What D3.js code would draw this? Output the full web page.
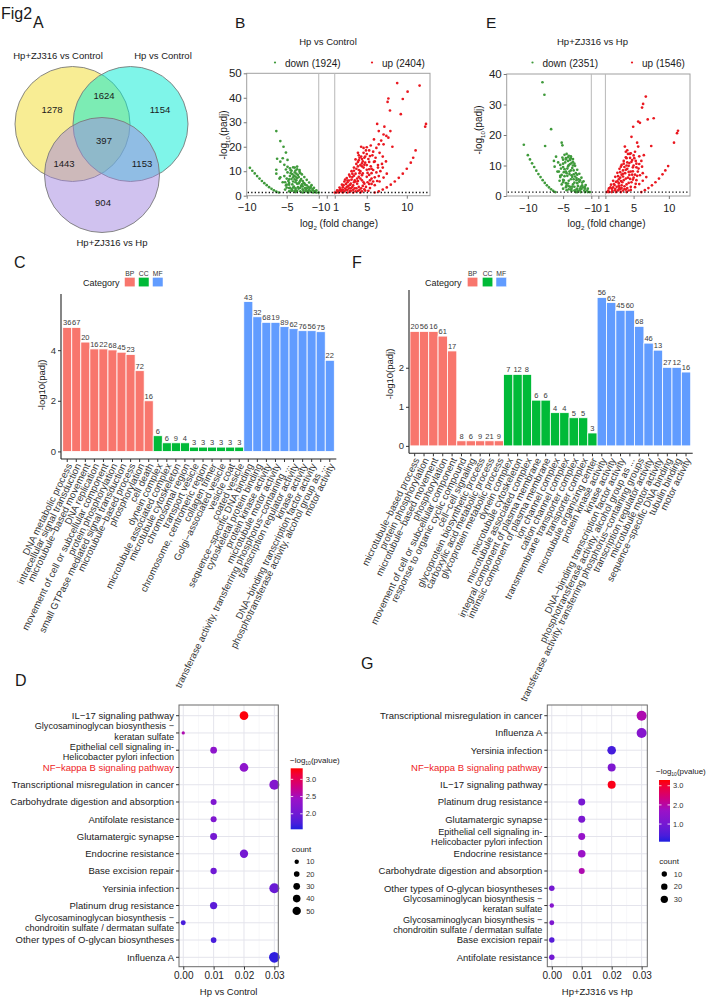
<!DOCTYPE html>
<html><head><meta charset="utf-8">
<script src="https://cdn.jsdelivr.net/npm/d3@7"></script>
<style>body{margin:0;background:#fff}svg{display:block}text{font-family:"Liberation Sans",Arial,Helvetica,sans-serif}</style>
</head><body><svg id="chart" width="709" height="999"></svg>
<script>
// ---------------- DATA ----------------
const vennSetNames = ["Hp+ZJ316 vs Control", "Hp vs Control", "Hp+ZJ316 vs Hp"];
// regions: A only, B only, C only, A&B, A&C, B&C, A&B&C
const vennCounts = [1278, 1154, 904, 1624, 1443, 1153, 397];

const volcanoTitles = ["Hp vs Control", "Hp+ZJ316 vs Hp"];
const downCounts = [1924, 2351];
const upCounts = [2404, 1546];
const volcanoXTicks = [-10, -5, -1, 0, 1, 5, 10];
const padjThreshold = 0.05;
const fcLines = [-1, 1];

const bDown = [
 [-9.6,11.4],[-9.3,10.2],[-9.0,9.1],[-8.7,8],[-8.4,7],[-8.1,6],[-7.8,5.1],[-7.5,4.3],[-7.2,3.5],[-6.9,2.8],[-6.6,2.2],[-6.3,1.7],[-6.0,1.3],
 [-6.3,9],[-5.9,7],[-5.5,5.5],[-5.1,4.2],[-4.7,3.1],[-4.3,2.2],[-3.9,1.5],
 [-1.0,1.3],[-1.3,2.2],[-1.6,3.2],[-1.9,4.3],[-2.2,5.4],[-2.5,6.5],[-2.8,7.6],[-3.1,8.7],[-3.4,9.8],[-3.7,10.8],[-4.0,11.5],
 [-1.3,1.3],[-1.7,2.2],[-2.1,3.2],[-2.5,4.2],[-2.9,5.2],[-3.3,6.2],[-3.7,7.2],[-4.1,8.2],[-4.5,9.2],
 [-1.7,1.3],[-2.2,2.2],[-2.7,3.1],[-3.2,4.0],[-3.7,4.9],[-4.2,5.8],[-4.7,6.7],
 [-2.3,1.3],[-2.9,2.1],[-3.5,2.9],[-4.1,3.7],[-4.7,4.5],
 [-3.0,1.3],[-3.7,2.0],[-4.4,2.7],[-5.0,3.3],
 [-2.0,1.8],[-2.6,1.8],[-3.3,1.8],[-4.0,1.8],[-2.5,3.0],[-3.0,3.8],[-3.5,5.0],[-3.8,6.3],[-4.2,7.5],[-3.2,6.8],[-2.8,5.0],[-4.4,10.2],
 [-4.0,9.5],[-3.6,8.5],[-4.6,8.0],[-4.9,9.5],[-4.8,6.0],[-4.3,4.6],[-3.6,3.5],[-4.6,3.2],[-5.0,4.5],[-2.2,2.6],[-3.9,2.3],[-4.4,2.0],
 [-1.5,1.8],[-1.8,2.7],[-2.3,3.6],[-2.6,2.5],[-3.0,2.6],[-3.3,3.2],[-3.9,3.0],[-4.2,3.3],[-2.7,4.5],[-3.1,4.6],[-3.4,5.6],[-3.0,6.0],
 [-3.9,5.5],[-4.0,6.7],[-4.4,6.8],[-3.5,7.6],[-3.9,7.8],[-4.3,8.8],[-3.8,9.0],[-3.3,9.2],[-3.9,10.3],[-4.5,10.4],[-4.7,5.2],[-5.2,5.5],
 [-5.0,7.0],[-5.3,8.0],[-2.4,1.8],[-4.7,1.8],[-5.2,2.5],[-2.0,3.6],
 [-6.3,26.4],[-5.8,22.3],[-5.4,20],[-5.1,17.6],[-5.5,15.3],[-6.2,15.1],[-4.9,14.6],[-5.8,13.9],[-5.3,12.6],[-6.3,10.6],[-5.8,7.5],
 [-4.6,11.2],[-4.2,11.6],[-3.7,11.9],[-4.9,11.8],[-5.1,10.7],[-3.4,10.5]
];
const bUp = [
 [1.0,1.3],[1.3,2.2],[1.6,3.3],[1.9,4.5],[2.2,5.8],[2.5,7.2],[2.8,8.6],[3.1,10],[3.4,11.5],[3.7,13],[4.0,14.5],[4.3,16],[4.6,17.5],[4.9,18.5],
 [1.2,1.3],[1.6,2.3],[2.0,3.5],[2.4,4.8],[2.8,6.2],[3.2,7.6],[3.6,9],[4.0,10.5],[4.4,12],[4.8,13.5],[5.2,15],
 [1.5,1.3],[2.0,2.4],[2.5,3.6],[3.0,4.9],[3.5,6.3],[4.0,7.7],[4.5,9.1],[5.0,10.6],[5.5,12],
 [2.0,1.3],[2.6,2.4],[3.2,3.6],[3.8,4.9],[4.4,6.3],[5.0,7.7],[5.6,9.2],
 [2.6,1.3],[3.3,2.4],[4.0,3.6],[4.7,4.9],[5.4,6.3],[6.0,7.5],
 [3.3,1.3],[4.1,2.4],[4.9,3.6],[5.6,4.8],
 [4.2,1.3],[4.8,2.1],[5.4,3.1],[6.0,4.3],[6.6,5.8],[7.1,7.4],[7.5,9],
 [6.0,1.3],[6.5,1.8],[7.0,2.5],[7.5,3.4],[8.0,4.5],[8.5,5.8],[9.0,7.3],[9.5,9.0],[10.0,11],[10.5,13.5],[10.8,15.5],[11.1,18.5],
 [1.8,1.8],[2.3,2.9],[2.7,4.0],[3.0,3.0],[3.4,5.5],[3.8,7.0],[3.2,9.0],[3.7,11.0],[4.2,12.5],[4.5,14],[4.8,16],[4.2,10],[4.6,11.5],
 [5.0,12.5],[5.3,13.8],[2.2,1.8],[2.9,1.8],[3.6,1.8],[4.4,1.8],[3.5,3.0],[4.3,3.0],[4.6,5.5],[5.1,5.5],[5.3,8.5],[5.8,10.5],[5.0,17],
 [4.4,15],[4.0,16.5],[3.9,12],[3.4,8.2],[2.6,5.5],[2.1,4.3],
 [1.4,1.8],[1.7,2.6],[2.4,2.4],[2.8,3.0],[3.0,2.0],[3.9,2.0],[4.7,2.6],[5.2,2.0],[2.9,4.4],[3.3,4.2],[3.6,5.8],[3.1,6.6],[3.9,6.0],
 [4.2,7.0],[4.4,8.4],[4.1,9.2],[3.4,10.2],[2.9,7.8],[3.9,13.8],[4.4,13.2],[4.7,12.6],[5.3,10.8],[5.1,9.3],[5.6,7.0],[6.3,6.0],[5.8,5.8],
 [6.5,8.0],[5.6,11.0],[4.7,15.5],[5.4,16.2],[3.6,14.8],[4.1,15.5],[6.0,14.0],[6.4,11.5],[2.3,6.6],[2.6,6.2],[1.9,2.4],[3.7,3.0],[4.5,4.0],[5.3,4.8],
 [8.8,46],[11.6,45],[10.1,42.5],[7.7,39.7],[7.6,38.3],[9.5,39.5],[7.9,34.8],[9.25,33.3],[6.3,29.3],[12.4,29.3],[12.3,28.2],[7.2,28.2],
 [6.5,26.4],[7.95,26.4],[7.45,24.4],[7.7,23.7],[7.1,25],[6.8,22.5],[8.2,20],[7.1,21],[5.9,23],[6.5,21],[5.5,20.5],[6.2,19.5],[5.8,18],
 [6.6,17.5],[5.3,18.5],[7.0,16],[6.1,15.5],[5.7,16.5],[6.9,13],[6.4,12.5],[7.4,14],[5.9,13.8],[6.7,10],[6.2,9.5],[7.0,11.5],[4.6,19.5],
 [5.0,19.8],[3.9,17.5],[4.3,20]
];
const eDown = [
 [-10,13.4],[-9.7,12],[-9.4,10.7],[-9.1,9.5],[-8.8,8.3],[-8.5,7.2],[-8.2,6.2],[-7.9,5.2],[-7.6,4.3],[-7.3,3.5],[-7.0,2.8],[-6.7,2.2],[-6.4,1.7],[-6.1,1.3],
 [-6.2,9.6],[-5.8,8],[-5.4,6.6],[-5.0,5.3],[-4.6,4.2],[-4.2,3.2],[-3.8,2.4],[-3.4,1.8],[-3.0,1.3],
 [-1.2,1.3],[-1.5,2.4],[-1.8,3.6],[-2.1,4.8],[-2.4,6.0],[-2.7,7.3],[-3.0,8.6],[-3.3,9.9],[-3.6,11.2],[-3.9,12.4],
 [-1.5,1.3],[-1.9,2.4],[-2.3,3.5],[-2.7,4.7],[-3.1,5.9],[-3.5,7.1],[-3.9,8.4],[-4.3,9.7],[-4.7,11],
 [-1.9,1.3],[-2.4,2.3],[-2.9,3.3],[-3.4,4.4],[-3.9,5.5],[-4.4,6.6],[-4.9,7.8],[-5.3,9],
 [-2.5,1.3],[-3.1,2.2],[-3.7,3.1],[-4.3,4.1],[-4.9,5.1],[-5.4,6.2],
 [-3.2,1.3],[-3.9,2.1],[-4.6,2.9],[-5.2,3.8],
 [-2.0,1.8],[-2.6,1.8],[-3.3,1.8],[-2.5,3.0],[-3.0,4.2],[-3.5,5.5],[-3.8,6.8],[-4.1,8.0],[-4.4,9.0],[-3.2,7.5],[-2.8,5.5],[-4.0,10.5],
 [-4.3,11.5],[-3.6,10.0],[-4.6,8.0],[-5.0,9.5],[-4.8,6.5],[-4.2,5.0],[-3.6,3.8],[-4.5,3.5],[-5.0,4.5],[-5.5,5.0],[-2.2,2.8],[-3.8,1.6],[-4.5,1.9],
 [-1.6,1.8],[-1.9,3.0],[-2.3,4.4],[-2.6,2.4],[-3.0,2.4],[-3.4,3.0],[-4.0,3.0],[-4.2,2.2],[-2.6,5.2],[-3.1,5.2],[-3.3,6.4],[-3.0,7.0],
 [-3.7,6.2],[-4.1,7.2],[-4.5,7.5],[-3.5,8.4],[-3.7,9.2],[-4.2,10.1],[-3.8,10.8],[-3.4,10.6],[-4.0,11.8],[-4.6,12.0],[-5.0,10.6],[-4.8,8.8],
 [-5.2,6.9],[-5.6,8.0],[-5.1,12.6],[-4.3,12.7],[-2.9,1.8],[-5.0,2.4],
 [-7.93,37.3],[-7.65,33.2],[-6.7,21.9],[-7.55,16.4],[-10.57,16.8],[-5.2,17.5],[-5.1,16.6],[-6.0,12.9],[-6.3,11.5],[-5.7,11],[-4.8,13.5],
 [-4.5,13.8],[-4.2,13.2],[-3.9,13],[-4.6,12.4],[-4.0,12.2],[-3.6,12.1],[-5.0,11.9],[-5.4,10.2]
];
const eUp = [
 [1.2,1.3],[1.5,2.5],[1.8,3.7],[2.1,5.0],[2.4,6.3],[2.7,7.6],[3.0,8.9],[3.3,10.2],[3.6,11.5],[3.9,12.7],[4.2,13.8],
 [1.5,1.3],[1.9,2.4],[2.3,3.6],[2.7,4.8],[3.1,6.0],[3.5,7.3],[3.9,8.6],[4.3,9.9],[4.7,11.2],[5.1,12.4],
 [1.9,1.3],[2.4,2.3],[2.9,3.4],[3.4,4.5],[3.9,5.7],[4.4,6.9],[4.9,8.1],[5.4,9.4],
 [2.5,1.3],[3.1,2.2],[3.7,3.2],[4.3,4.3],[4.9,5.4],[5.5,6.6],
 [3.2,1.3],[3.9,2.1],[4.6,3.0],[5.3,4.0],
 [4.0,1.3],[4.6,2.0],[5.2,2.9],[5.8,3.9],[6.3,5.0],[6.8,6.2],
 [6.1,1.3],[6.6,1.9],[7.1,2.6],[7.6,3.5],[8.1,4.5],[8.6,5.7],[9.1,7.1],[9.5,8.4],[9.9,9.8],
 [2.0,1.8],[2.8,1.8],[3.5,1.8],[4.3,1.8],[2.6,3.0],[3.3,3.5],[2.9,5.5],[3.6,5.2],[3.3,7.0],[3.8,7.5],[4.1,11],[4.5,12.5],[4.0,10],
 [4.6,8],[5.0,10],[4.2,6],[4.7,4.5],[5.2,7],[5.6,8],[5.8,10.5],[3.7,9.5],[4.4,10.8],[5.3,11.5],[3.0,2.8],[4.0,3.8],
 [1.4,1.8],[1.7,2.8],[2.1,2.8],[2.4,1.8],[2.9,2.2],[3.3,2.6],[3.7,2.3],[4.1,2.6],[2.2,3.9],[2.5,4.6],[2.9,4.2],[3.2,4.9],[3.5,6.4],
 [2.8,6.5],[3.1,7.8],[3.5,8.4],[3.2,9.6],[3.6,10.6],[4.1,8.9],[4.3,7.9],[4.8,7.0],[4.9,9.4],[4.5,5.6],[5.0,6.0],[5.4,5.2],[5.9,6.8],
 [5.7,9.0],[4.8,11.8],[5.4,10.6],[4.0,12.4],[3.9,14.5],[4.6,14.0],[5.0,13.3],[6.3,7.5],[6.2,9.6],
 [6.73,32.6],[6.35,30.2],[6.2,29],[5.65,24.4],[5.9,24],[7.0,25.1],[7.85,25.5],[4.94,22.7],[4.7,19.4],[5.65,16.2],[7.5,16.4],[3.76,16.2],
 [4.47,13.8],[6.45,13.4],[10.73,17.5],[11.16,20.6],[11.3,21.4],[5.2,14.5],[5.8,13],[4.1,15],[6.1,11.5],[5.5,17.5]
];

const goCategories = ["BP", "CC", "MF"];
const goTermsC = [
 "DNA metabolic process","intracellular signal transduction","microtubule−based movement","DNA replication",
 "movement of cell or subcellular component","protein phosphorylation","small GTPase mediated signal transduction",
 "microtubule−based process","phosphorylation","cell death",
 "dynein complex","microtubule associated complex","microtubule cytoskeleton","chromosomal region","transport vesicle",
 "chromosome, centromeric region","collagen trimer","Golgi−associated vesicle","vesicle coat","coated vesicle",
 "sequence−specific DNA binding","cytoskeletal protein binding","protein kinase activity","microtubule motor activity",
 "transferase activity, transferring phosphorus−containing ...","transcription regulator activity","kinase activity",
 "DNA−binding transcription factor activity","phosphotransferase activity, alcohol group as ...","motor activity"
];
const goTypeC = ["BP","BP","BP","BP","BP","BP","BP","BP","BP","BP","CC","CC","CC","CC","CC","CC","CC","CC","CC","CC","MF","MF","MF","MF","MF","MF","MF","MF","MF","MF"];
const goValueC = [4.9,4.9,4.32,4.05,4.05,4.01,3.92,3.83,3.19,2.0, 0.62,0.34,0.34,0.34,0.17,0.17,0.17,0.17,0.17,0.17, 5.92,5.32,5.1,5.1,4.93,4.85,4.77,4.77,4.73,3.6];
const goCountC = [36,67,20,16,22,68,45,23,72,16, 6,6,9,4,3,3,3,3,3,3, 43,32,68,19,89,62,76,56,75,22];
const goYTicksC = [0, 2, 4];

const goTermsF = [
 "microtubule−based process","protein phosphorylation","microtubule−based movement","phosphorylation",
 "movement of cell or subcellular component","response to organic cyclic compound","cell−cell signaling",
 "glycoprotein biosynthetic process","carboxylic acid metabolic process","glycoprotein metabolic process",
 "dynein complex","microtubule cytoskeleton","microtubule associated complex","integral component of plasma membrane",
 "intrinsic component of plasma membrane","ion channel complex","cation channel complex","transmembrane transporter complex",
 "transporter complex","microtubule organizing center",
 "protein kinase activity","kinase activity","DNA−binding transcription factor activity","phosphotransferase activity, alcohol group as ...",
 "transferase activity, transferring phosphorus−containing groups","transcription regulator activity","microtubule motor activity",
 "sequence−specific DNA binding","tubulin binding","motor activity"
];
const goTypeF = goTypeC.slice();
const goValueF = [2.93,2.93,2.93,2.81,2.43,0.13,0.13,0.13,0.13,0.13, 1.83,1.83,1.83,1.17,1.17,0.85,0.85,0.72,0.72,0.33, 3.8,3.67,3.47,3.47,3.06,2.63,2.45,2.01,2.01,1.89];
const goCountF = [20,56,16,61,17,8,6,9,21,9, 7,12,8,6,6,4,4,5,5,3, 56,62,45,60,68,46,13,27,12,16];
const goYTicksF = [0, 1, 2];

const keggTermsD = [
 "IL−17 signaling pathway","Glycosaminoglycan biosynthesis −\nkeratan sulfate","Epithelial cell signaling in-\nHelicobacter pylori infection",
 "NF−kappa B signaling pathway","Transcriptional misregulation in cancer","Carbohydrate digestion and absorption",
 "Antifolate resistance","Glutamatergic synapse","Endocrine resistance","Base excision repair","Yersinia infection",
 "Platinum drug resistance","Glycosaminoglycan biosynthesis −\nchondroitin sulfate / dermatan sulfate",
 "Other types of O-glycan biosyntheses","Influenza A"
];
const keggRatioD = [0.02,0.00,0.01,0.02,0.03,0.01,0.01,0.01,0.02,0.01,0.03,0.01,0.00,0.01,0.03];
const keggCountD = [54,3,30,54,73,23,23,33,49,26,73,36,14,20,84];
const keggLogPD = [3.3,2.55,2.3,2.3,2.2,2.15,2.15,2.05,2.05,2.0,1.95,1.85,1.72,1.72,1.6];
const keggCountBreaksD = [10,20,30,40,50];
const keggColorTicksD = [2.0,2.5,3.0];

const keggTermsG = [
 "Transcriptional misregulation in cancer","Influenza A","Yersinia infection","NF−kappa B signaling pathway",
 "IL−17 signaling pathway","Platinum drug resistance","Glutamatergic synapse",
 "Epithelial cell signaling in-\nHelicobacter pylori infection","Endocrine resistance","Carbohydrate digestion and absorption",
 "Other types of O-glycan biosyntheses","Glycosaminoglycan biosynthesis −\nkeratan sulfate",
 "Glycosaminoglycan biosynthesis −\nchondroitin sulfate / dermatan sulfate","Base excision repair","Antifolate resistance"
];
const keggRatioG = [0.03,0.03,0.02,0.02,0.02,0.01,0.01,0.01,0.01,0.01,0.00,0.00,0.00,0.00,0.00];
const keggCountG = [66,66,46,38,38,26,26,26,33,16,12,3,7,11,11];
const keggLogPG = [1.9,1.3,0.35,1.15,3.2,1.05,1.1,1.6,1.7,1.9,1.0,1.3,1.15,0.55,0.95];
const keggCountBreaksG = [10,20,30];
const keggColorTicksG = [1.0,2.0,3.0];
const keggXTicks = [0.00,0.01,0.02,0.03];
const keggXMinor = [0.005,0.015,0.025];

// ---------------- DRAW ----------------
const svg = d3.select("#chart");
const GREEN = "#3f9a3b", RED = "#ea1820";
const catColor = d3.scaleOrdinal().domain(goCategories).range(["#F8766D","#00BA38","#619CFF"]);

function T(g, x, y, s, o = {}) {
  const t = g.append("text").attr("x", x).attr("y", y).text(s)
    .attr("font-size", o.size || 10).attr("fill", o.fill || "#1a1a1a")
    .attr("text-anchor", o.anchor || "start");
  if (o.transform) t.attr("transform", o.transform);
  return t;
}
function subT(g, x, y, parts, o = {}) {
  const t = g.append("text").attr("x", x).attr("y", y)
    .attr("font-size", o.size || 10).attr("fill", o.fill || "#1a1a1a")
    .attr("text-anchor", o.anchor || "start");
  if (o.transform) t.attr("transform", o.transform);
  parts.forEach(p => {
    const ts = t.append("tspan").text(p[0]);
    if (p[1] === 1) ts.attr("font-size", (o.size || 10) * 0.62).attr("dy", (o.size || 10) * 0.25);
    if (p[1] === -1) ts.attr("dy", -(o.size || 10) * 0.25);
  });
  return t;
}

// figure labels
T(svg, 1, 19, "Fig2", {size: 16});
T(svg, 33, 28, "A", {size: 16});
T(svg, 235, 28, "B", {size: 15.5});
T(svg, 486, 28, "E", {size: 15.5});
T(svg, 14, 268, "C", {size: 16});
T(svg, 352, 268, "F", {size: 16});
T(svg, 15, 686, "D", {size: 16});
T(svg, 361, 669, "G", {size: 16});

// ---------- Venn ----------
(function () {
  const g = svg.append("g");
  const R = 57.5;
  const circles = [{cx: 72.5, cy: 124, fill: "#f2dc2a"}, {cx: 130.5, cy: 124, fill: "#00ecd4"}, {cx: 102, cy: 175, fill: "#a186e0"}];
  g.selectAll("circle").data(circles).join("circle")
    .attr("cx", d => d.cx).attr("cy", d => d.cy).attr("r", R)
    .attr("fill", d => d.fill).attr("fill-opacity", 0.5)
    .attr("stroke", "#7a7a7a").attr("stroke-width", 0.9);
  const pos = [[52, 113], [160, 113], [103, 206], [104, 99], [64, 167], [142, 167], [104, 144]];
  vennCounts.forEach((c, i) => T(g, pos[i][0], pos[i][1], c, {size: 9.5, anchor: "middle"}));
  T(g, 58, 59, vennSetNames[0], {size: 9.5, anchor: "middle"});
  T(g, 163, 59, vennSetNames[1], {size: 9.5, anchor: "middle"});
  T(g, 112, 246, vennSetNames[2], {size: 9.5, anchor: "middle"});
})();

// ---------- Volcano ----------
function volcano(o) {
  const g = svg.append("g");
  const x = d3.scaleLinear().domain(o.xd).range([o.x0, o.x1]);
  const y = d3.scaleLinear().domain(o.yd).range([o.y1, o.y0]);
  g.append("rect").attr("x", o.x0).attr("y", o.y0).attr("width", o.x1 - o.x0).attr("height", o.y1 - o.y0)
    .attr("fill", "#fff").attr("stroke", "#a0a0a0").attr("stroke-width", 1);
  g.selectAll("line.fc").data(fcLines).join("line").attr("class", "fc")
    .attr("x1", d => x(d)).attr("x2", d => x(d)).attr("y1", o.y0).attr("y2", o.y1)
    .attr("stroke", "#b8b8b8").attr("stroke-width", 1);
  g.append("g").selectAll("circle").data(o.down).join("circle")
    .attr("cx", d => x(d[0])).attr("cy", d => y(d[1])).attr("r", 1.35).attr("fill", GREEN);
  g.append("g").selectAll("circle").data(o.up).join("circle")
    .attr("cx", d => x(d[0])).attr("cy", d => y(d[1])).attr("r", 1.35).attr("fill", RED);
  const thr = -Math.log10(padjThreshold);
  g.append("line").attr("x1", o.x0 + 1).attr("x2", o.x1 - 1).attr("y1", y(thr)).attr("y2", y(thr))
    .attr("stroke", "#111").attr("stroke-width", 1.3).attr("stroke-dasharray", "1.3,2.2");
  const xa = g.append("g").attr("transform", `translate(0,${o.y1})`)
    .call(d3.axisBottom(x).tickValues(volcanoXTicks).tickSize(3).tickPadding(5).tickFormat(d3.format("d")));
  const ya = g.append("g").attr("transform", `translate(${o.x0},0)`)
    .call(d3.axisLeft(y).tickValues(d3.range(o.yd[0], o.yd[1] + 1, 10)).tickSize(3).tickPadding(2));
  [xa, ya].forEach(a => {
    a.select(".domain").remove();
    a.attr("font-family", null).attr("font-size", 11.5);
    a.selectAll("line").attr("stroke", "#777");
    a.selectAll("text").attr("fill", "#222");
  });
  xa.selectAll("text").attr("font-size", 11).attr("dx", d => d === -1 ? -1.3 : (d === 1 ? 0.8 : 0));
  T(g, o.tx, 45, o.title, {size: 9.5, anchor: "middle"});
  g.append("circle").attr("cx", o.ld).attr("cy", 62.5).attr("r", 1.1).attr("fill", GREEN);
  T(g, o.ld + 10, 66.5, `down (${o.nDown})`, {size: 10});
  g.append("circle").attr("cx", o.lu).attr("cy", 62.5).attr("r", 1.1).attr("fill", RED);
  T(g, o.lu + 10, 66.5, `up (${o.nUp})`, {size: 10});
  subT(g, o.xlx, 227, [["log"], ["2", 1], [" (fold change)", -1]], {size: 10, anchor: "middle"});
  subT(g, 0, 0, [["-log"], ["10", 1], ["(padj)", -1]], {size: 10, anchor: "middle", transform: `translate(${o.ylx},${o.yly}) rotate(-90)`});
}
volcano({x0: 246.7, x1: 430, y0: 73.3, y1: 195.7, xd: [-10, 12.9], yd: [0, 50], down: bDown, up: bUp,
  title: volcanoTitles[0], nDown: downCounts[0], nUp: upCounts[0], tx: 328, ld: 275, lu: 372, xlx: 339, ylx: 227, yly: 135});
volcano({x0: 506.7, x1: 690, y0: 74, y1: 196, xd: [-13, 13], yd: [0, 40], down: eDown, up: eUp,
  title: volcanoTitles[1], nDown: downCounts[1], nUp: upCounts[1], tx: 592.5, ld: 532.5, lu: 632, xlx: 606.5, ylx: 482, yly: 130});

// ---------- GO bars ----------
function goBar(o) {
  const g = svg.append("g");
  const idx = d3.range(o.terms.length);
  const x = d3.scaleBand().domain(idx).range([o.bx0, o.bx1]).padding(0);
  const y = d3.scaleLinear().domain(o.yd).range([o.yb, o.yt]);
  g.selectAll("rect.bar").data(idx).join("rect").attr("class", "bar")
    .attr("x", i => x(i)).attr("width", x.bandwidth())
    .attr("y", i => y(o.vals[i])).attr("height", i => y(0) - y(o.vals[i]))
    .attr("fill", i => catColor(o.types[i])).attr("stroke", "#fff").attr("stroke-width", 0.8);
  g.selectAll("text.cnt").data(idx).join("text").attr("class", "cnt")
    .attr("x", i => x(i) + x.bandwidth() / 2).attr("y", i => y(o.vals[i]) - 2)
    .attr("text-anchor", "middle").attr("font-size", 7.5).attr("fill", "#3a3a3a").text(i => o.counts[i]);
  g.append("line").attr("x1", o.ax).attr("x2", o.ax).attr("y1", o.yt).attr("y2", o.yb).attr("stroke", "#222").attr("stroke-width", 1.1);
  g.append("line").attr("x1", o.ax).attr("x2", o.bx1 + 2).attr("y1", o.yb).attr("y2", o.yb).attr("stroke", "#222").attr("stroke-width", 1.1);
  const ya = g.append("g").attr("transform", `translate(${o.ax},0)`)
    .call(d3.axisLeft(y).tickValues(o.yticks).tickSize(3).tickPadding(2).tickFormat(d3.format("d")));
  ya.select(".domain").remove();
  ya.attr("font-family", null).attr("font-size", 9.5);
  ya.selectAll("line").attr("stroke", "#333");
  ya.selectAll("text").attr("fill", "#333");
  g.selectAll("line.xt").data(idx).join("line").attr("class", "xt")
    .attr("x1", i => x(i) + x.bandwidth() / 2).attr("x2", i => x(i) + x.bandwidth() / 2)
    .attr("y1", o.yb).attr("y2", o.yb + 3).attr("stroke", "#333");
  g.selectAll("text.xl").data(idx).join("text").attr("class", "xl")
    .attr("transform", i => `translate(${x(i) + x.bandwidth() / 2 + 2},${o.yb + 5}) rotate(-64)`)
    .attr("text-anchor", "end").attr("dy", "0.35em").attr("font-size", 9.7).attr("fill", "#333")
    .text(i => o.terms[i]);
  T(g, 0, 0, "-log10(padj)", {size: 9.5, anchor: "middle", transform: `translate(${o.ylx},${o.yly}) rotate(-90)`});
  T(g, o.lx, 285.5, "Category", {size: 9});
  goCategories.forEach((c, i) => {
    g.append("rect").attr("x", o.lbx[i]).attr("y", 277.3).attr("width", 10.5).attr("height", 9.5).attr("fill", catColor(c)).attr("stroke", "#fff").attr("stroke-width", 0.5);
    T(g, o.lbx[i] + 5.25, 275.5, c, {size: 6.8, anchor: "middle", fill: "#333"});
  });
}
goBar({terms: goTermsC, types: goTypeC, vals: goValueC, counts: goCountC, yticks: goYTicksC,
  bx0: 62.7, bx1: 334.3, ax: 61, yt: 294, yb: 459, yd: [-0.3, 6.22], ylx: 45, yly: 385, lx: 83, lbx: [124.5, 138.5, 152.5]});
goBar({terms: goTermsF, types: goTypeF, vals: goValueF, counts: goCountF, yticks: goYTicksF,
  bx0: 410, bx1: 690.7, ax: 409, yt: 290, yb: 453.3, yd: [-0.19, 3.99], ylx: 393, yly: 374, lx: 425, lbx: [467.3, 482.3, 496]});

// ---------- KEGG bubbles ----------
function bubble(o) {
  const g = svg.append("g");
  const idx = d3.range(o.terms.length);
  const x = d3.scaleLinear().domain(o.xd).range([o.px0, o.px1]);
  const y = d3.scalePoint().domain(idx).range([715.7, 957.3]);
  const col = d3.scaleLinear().domain([o.cd[0], (o.cd[0] + o.cd[1]) / 2, o.cd[1]]).range(["#1f1fe0", "#9a12c8", "#ff0000"]).interpolate(d3.interpolateLab);
  const rad = c => Math.sqrt(o.k0 + o.k1 * c);
  g.append("rect").attr("x", o.px0).attr("y", 705).attr("width", o.px1 - o.px0).attr("height", 261.7).attr("fill", "#fff");
  g.selectAll("line.mn").data(keggXMinor).join("line").attr("x1", d => x(d)).attr("x2", d => x(d)).attr("y1", 705).attr("y2", 966.7).attr("stroke", "#f1f1f5").attr("stroke-width", 0.6);
  g.selectAll("line.mj").data(keggXTicks).join("line").attr("x1", d => x(d)).attr("x2", d => x(d)).attr("y1", 705).attr("y2", 966.7).attr("stroke", "#e4e4ec").attr("stroke-width", 1);
  g.selectAll("line.rw").data(idx).join("line").attr("x1", o.px0).attr("x2", o.px1).attr("y1", i => y(i)).attr("y2", i => y(i)).attr("stroke", "#e4e4ec").attr("stroke-width", 1);
  g.selectAll("circle.b").data(idx).join("circle")
    .attr("cx", i => x(o.ratio[i])).attr("cy", i => y(i)).attr("r", i => rad(o.count[i]))
    .attr("fill", i => col(o.logp[i]));
  g.append("rect").attr("x", o.px0).attr("y", 705).attr("width", o.px1 - o.px0).attr("height", 261.7).attr("fill", "none").attr("stroke", "#6a6a6a").attr("stroke-width", 1);
  g.selectAll("line.yt").data(idx).join("line").attr("x1", o.px0 - 3).attr("x2", o.px0).attr("y1", i => y(i)).attr("y2", i => y(i)).attr("stroke", "#333");
  const two = i => i >= 0 && i < o.terms.length && o.terms[i].includes("\n");
  idx.forEach(i => {
    const lines = o.terms[i].split("\n");
    const red = o.terms[i].startsWith("NF");
    let offs = [3.4], size = 9.5;
    if (lines.length === 2) {
      size = 9.1;
      if (two(i + 1)) offs = [-3.6, 6.6];
      else if (two(i - 1)) offs = [-0.2, 10.0];
      else offs = [-1.8, 8.4];
    }
    lines.forEach((ln, j) => T(g, o.px0 - 5, y(i) + offs[j], ln, {size: size, anchor: "end", fill: red ? "#ee1c24" : "#1a1a1a"}));
  });
  const xa = g.append("g").attr("transform", "translate(0,966.7)")
    .call(d3.axisBottom(x).tickValues(keggXTicks).tickSize(3).tickPadding(2).tickFormat(d3.format(".2f")));
  xa.select(".domain").remove();
  xa.attr("font-family", null).attr("font-size", 10);
  xa.selectAll("line").attr("stroke", "#333");
  xa.selectAll("text").attr("fill", "#222");
  T(g, (o.px0 + o.px1) / 2, 994.5, o.xtitle, {size: 9.5, anchor: "middle"});
  const L = o.leg;
  subT(g, L.tx, L.ty, [["−log"], ["10", 1], ["(pvalue)", -1]], {size: 8});
  const gid = "grad" + o.id;
  const grad = svg.append("defs").append("linearGradient").attr("id", gid).attr("x1", 0).attr("x2", 0).attr("y1", 1).attr("y2", 0);
  d3.range(0, 1.0001, 0.1).forEach(t => grad.append("stop").attr("offset", t).attr("stop-color", col(o.cd[0] + t * (o.cd[1] - o.cd[0]))));
  const cy = d3.scaleLinear().domain(o.cd).range([L.cb1, L.cb0]);
  g.append("rect").attr("x", L.cx).attr("y", L.cb0).attr("width", L.cw).attr("height", L.cb1 - L.cb0).attr("fill", `url(#${gid})`);
  o.cticks.forEach(v => {
    g.append("line").attr("x1", L.cx).attr("x2", L.cx + 2.5).attr("y1", cy(v)).attr("y2", cy(v)).attr("stroke", "#fff").attr("stroke-width", 0.8);
    g.append("line").attr("x1", L.cx + L.cw - 2.5).attr("x2", L.cx + L.cw).attr("y1", cy(v)).attr("y2", cy(v)).attr("stroke", "#fff").attr("stroke-width", 0.8);
    T(g, L.cx + L.cw + 3, cy(v) + 2.7, d3.format(".1f")(v), {size: 7.5, fill: "#333"});
  });
  T(g, L.sx - 5, L.sty, "count", {size: 8});
  o.breaks.forEach((b, i) => {
    const yy = L.sy0 + i * L.sdy;
    g.append("circle").attr("cx", L.sx).attr("cy", yy).attr("r", rad(b)).attr("fill", "#000");
    T(g, L.sx + 9.5, yy + 2.7, b, {size: 7.5, fill: "#333"});
  });
}
bubble({id: "D", terms: keggTermsD, ratio: keggRatioD, count: keggCountD, logp: keggLogPD, breaks: keggCountBreaksD, cticks: keggColorTicksD,
  px0: 179, px1: 278.3, xd: [-0.0014, 0.0313], cd: [1.55, 3.32], k0: 1.64, k1: 0.32, xtitle: "Hp vs Control",
  leg: {tx: 290, ty: 763, cx: 290.7, cw: 12, cb0: 768.3, cb1: 829.3, sx: 296.7, sty: 852, sy0: 861.7, sdy: 12.3}});
bubble({id: "G", terms: keggTermsG, ratio: keggRatioG, count: keggCountG, logp: keggLogPG, breaks: keggCountBreaksG, cticks: keggColorTicksG,
  px0: 547.3, px1: 647.3, xd: [-0.0015, 0.0319], cd: [0.08, 3.3], k0: 3.96, k1: 0.317, xtitle: "Hp+ZJ316 vs Hp",
  leg: {tx: 656, ty: 774, cx: 659, cw: 11, cb0: 780, cb1: 841.7, sx: 664.3, sty: 864, sy0: 874, sdy: 12.65}});
</script></body></html>
